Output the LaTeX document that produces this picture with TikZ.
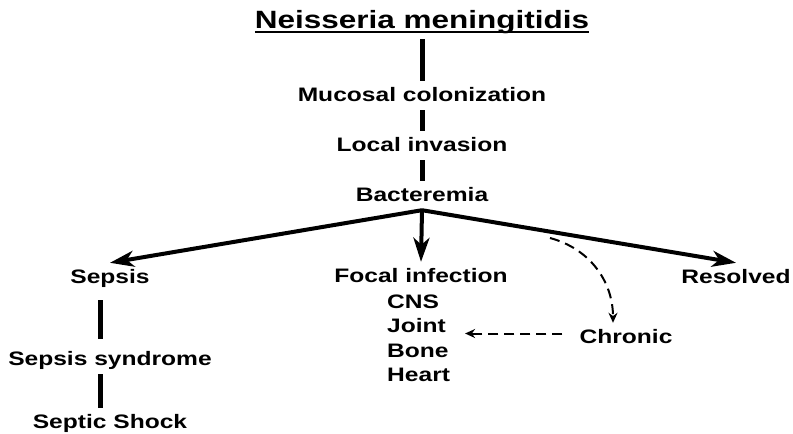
\documentclass[tikz,border=0pt]{standalone}
\usepackage{fontspec}
\setmainfont{Liberation Sans}[FakeStretch=1.26]
\usetikzlibrary{arrows.meta}
\newcommand{\undertext}[1]{\leavevmode\setbox0\hbox{#1}\rlap{\rule[-4.8pt]{\wd0}{1.6pt}}\box0}

\begin{document}
\begin{tikzpicture}[x=1pt, y=-1pt,
  stage/.style={font=\fontsize{19.5}{22}\selectfont\bfseries, text height=14pt, text depth=3pt, inner xsep=3pt, inner ysep=6pt, anchor=base},
  stem/.style={line width=5pt},
  branch/.style={line width=4pt, -{Stealth[length=24pt,width=16pt,inset=7pt]}},
  chronicarrow/.style={line width=2pt, dash pattern=on 10pt off 6pt, -{Stealth[length=10pt,width=9pt]}}
]
\useasboundingbox (0,0) rectangle (793,434);

% Main pathway
\node[stage, font=\fontsize{25}{28}\selectfont\bfseries, text height=18pt, text depth=5pt] (neisseria) at (422,28) {\undertext{Neisseria meningitidis}};
\node[stage] (mucosal) at (422,101) {Mucosal colonization};
\node[stage] (local) at (422,151) {Local invasion};
\node[stage] (bacteremia) at (422,201) {Bacteremia};

\draw[stem] (neisseria) -- (mucosal);
\draw[stem] (mucosal) -- (local);
\draw[stem] (local) -- (bacteremia);

% Outcomes
\node[stage] (sepsis) at (110,283) {Sepsis};
\node[stage] (syndrome) at (110,365) {Sepsis syndrome};
\node[stage] (shock) at (110,428) {Septic Shock};
\node[stage] (focal) at (421,282) {Focal infection};
\foreach \name/\site/\y in {cns/CNS/308, joint/Joint/332, bone/Bone/357, heart/Heart/381}
  \node[stage, anchor=base west] (\name) at (384,\y) {\site};
\node[stage] (chronic) at (626,343) {Chronic};
\node[stage] (resolved) at (736,283) {Resolved};

\draw[branch] (bacteremia.south) -- (sepsis.north);
\draw[branch] (bacteremia.south) -- (focal.north);
\draw[branch] (bacteremia.south) -- (resolved.north);

% Sepsis cascade
\draw[stem, shorten <=8pt, shorten >=6pt] ([xshift=-10pt]sepsis.south) -- ([xshift=-10pt]syndrome.north);
\draw[stem] ([xshift=-10pt]syndrome.south) -- ([xshift=-10pt]shock.north);

% Chronic course
\coordinate (fork) at (550,238);
\draw[chronicarrow] (fork) to[out=-15, in=90] ([xshift=-13pt]chronic.north);
\draw[chronicarrow, shorten <=14pt, shorten >=16pt] ([yshift=4pt]chronic.west) -- ([yshift=4pt]chronic.west -| joint.east);

\end{tikzpicture}
\end{document}
